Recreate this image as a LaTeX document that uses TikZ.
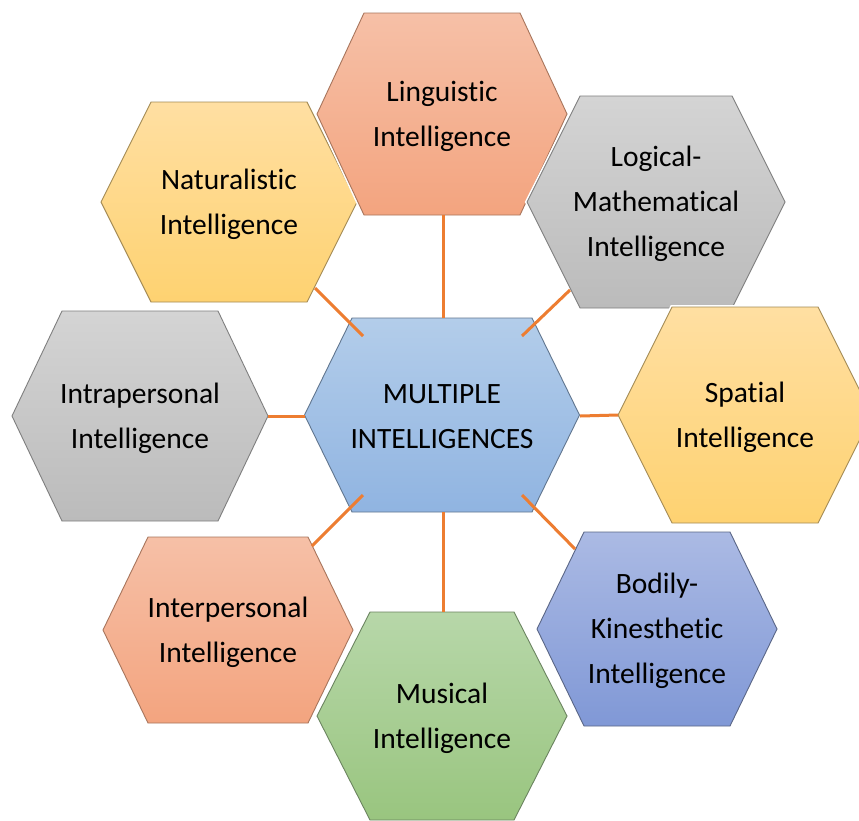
\documentclass[tikz,border=0pt]{standalone}
\usepackage{fontspec}
\setmainfont{Carlito}[Ligatures={NoCommon}]

% fill palettes (top / bottom of the vertical gradient, edge)
\definecolor{salmonT}{HTML}{F6C0A7}
\definecolor{salmonB}{HTML}{F3A47F}
\definecolor{salmonE}{HTML}{A8755C}
\definecolor{goldT}{HTML}{FFDFA2}
\definecolor{goldB}{HTML}{FED271}
\definecolor{goldE}{HTML}{A48B55}
\definecolor{greyT}{HTML}{D4D4D4}
\definecolor{greyB}{HTML}{BBBBBB}
\definecolor{greyE}{HTML}{7F7F7F}
\definecolor{skyT}{HTML}{B3CDEA}
\definecolor{skyB}{HTML}{90B4E1}
\definecolor{skyE}{HTML}{61768F}
\definecolor{violetT}{HTML}{ABBAE4}
\definecolor{violetB}{HTML}{8098D6}
\definecolor{violetE}{HTML}{5A6686}
\definecolor{leafT}{HTML}{B7D7A9}
\definecolor{leafB}{HTML}{99C57F}
\definecolor{leafE}{HTML}{6B8460}
\definecolor{linkC}{HTML}{ED7D31}

\tikzset{
  pal-salmon/.style={top color=salmonT, bottom color=salmonB, draw=salmonE},
  pal-gold/.style={top color=goldT, bottom color=goldB, draw=goldE},
  pal-grey/.style={top color=greyT, bottom color=greyB, draw=greyE},
  pal-sky/.style={top color=skyT, bottom color=skyB, draw=skyE},
  pal-violet/.style={top color=violetT, bottom color=violetB, draw=violetE},
  pal-leaf/.style={top color=leafT, bottom color=leafB, draw=leafE},
  cellhalo/.style={draw=white, line width=4},
  cellbody/.style={line width=0.9, line join=miter},
  celltext/.style={align=center, text=black, inner sep=0pt,
    font=\fontsize{29.5}{45}\selectfont},
  link/.style={draw=linkC, line width=3},
}

% \hexcell{name}{cx}{cy}{half width}{half top edge}{half height}{palette}{text}
\newcommand\hexcell[8]{%
  \path[cellhalo] ({#2-#4},#3) -- ({#2-#5},{#3-#6}) -- ({#2+#5},{#3-#6})
    -- ({#2+#4},#3) -- ({#2+#5},{#3+#6}) -- ({#2-#5},{#3+#6}) -- cycle;
  \path[cellbody,#7] ({#2-#4},#3) -- ({#2-#5},{#3-#6}) -- ({#2+#5},{#3-#6})
    -- ({#2+#4},#3) -- ({#2+#5},{#3+#6}) -- ({#2-#5},{#3+#6}) -- cycle;
  \node[celltext] (#1) at (#2,{#3+2}) {#8};
}

\begin{document}
\begin{tikzpicture}[x=1pt,y=-1pt]
\useasboundingbox[fill=white] (0,0) rectangle (859,820);

% outer ring
\hexcell{nat}{229}{202}{128}{78}{100}{pal-gold}{Naturalistic\\Intelligence}
\hexcell{lin}{442}{114}{125}{78}{101}{pal-salmon}{Linguistic\\Intelligence}
\hexcell{log}{656}{202}{129}{76}{106}{pal-grey}{Logical-\\Mathematical\\Intelligence}
\hexcell{spa}{745}{415}{127}{73}{108}{pal-gold}{Spatial\\Intelligence}
\hexcell{bod}{657}{629}{120}{73}{97}{pal-violet}{Bodily-\\Kinesthetic\\Intelligence}
\hexcell{mus}{442}{716}{125}{72}{104}{pal-leaf}{Musical\\Intelligence}
\hexcell{inter}{228}{630}{125}{80}{93}{pal-salmon}{Interpersonal\\Intelligence}
\hexcell{intra}{140}{416}{128}{78}{105}{pal-grey}{Intrapersonal\\Intelligence}

% hub
\hexcell{mi}{442}{415}{137.5}{90}{97}{pal-sky}{MULTIPLE\\INTELLIGENCES}

% connector end points
\coordinate (lin-s)   at (443,215);
\coordinate (mi-n)    at (443,318);
\coordinate (nat-se)  at (315,288);
\coordinate (mi-nw)   at (363,336);
\coordinate (log-sw)  at (570,290);
\coordinate (mi-ne)   at (522,336);
\coordinate (intra-e) at (268,416);
\coordinate (mi-w)    at (305,416);
\coordinate (spa-w)   at (618,415);
\coordinate (mi-e)    at (580,416);
\coordinate (inter-ne) at (312,546);
\coordinate (mi-sw)   at (363,495);
\coordinate (bod-nw)  at (575,549);
\coordinate (mi-se)   at (522,495);
\coordinate (mus-n)   at (443,612);
\coordinate (mi-s)    at (443,512);

% connectors
\draw[link] (lin-s) -- (mi-n);
\draw[link] (nat-se) -- (mi-nw);
\draw[link] (log-sw) -- (mi-ne);
\draw[link] (intra-e) -- (mi-w);
\draw[link] (mi-e) -- (spa-w);
\draw[link] (inter-ne) -- (mi-sw);
\draw[link] (mi-se) -- (bod-nw);
\draw[link] (mi-s) -- (mus-n);
\end{tikzpicture}
\end{document}
